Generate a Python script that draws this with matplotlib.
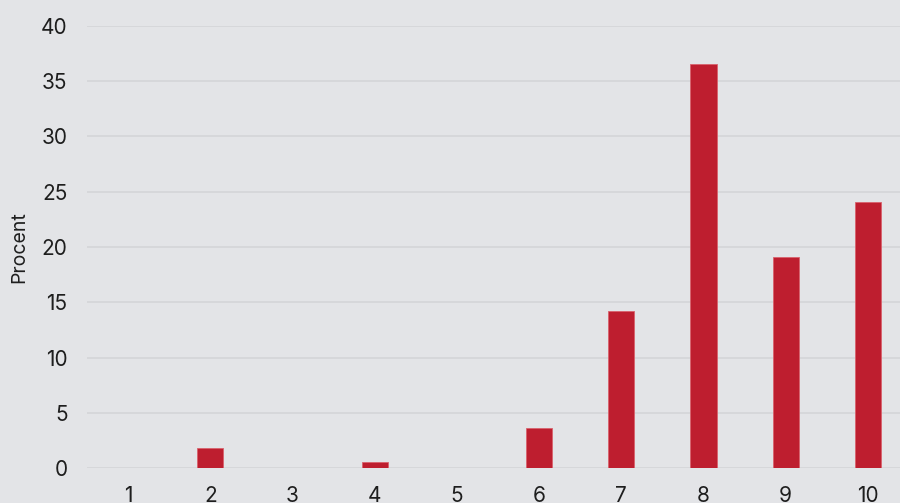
import matplotlib
matplotlib.use("Agg")
import matplotlib.pyplot as plt

categories = ["1", "2", "3", "4", "5", "6", "7", "8", "9", "10"]
values = [0, 1.83, 0, 0.6, 0, 3.64, 14.19, 36.5, 19.1, 24.07]
yticks = [0, 5, 10, 15, 20, 25, 30, 35, 40]

bg = "#e3e4e7"
grid_c = "#d4d5d8"
bar_c = "#be1e2f"
text_c = "#1e1e1e"

plt.rcParams['font.family'] = ['Inter', 'DejaVu Sans']

fig = plt.figure(figsize=(9, 5.03), dpi=100, facecolor=bg)
ax = fig.add_axes([87/900, (503-468.3)/503, 822/900, (468.3-25.7)/503])
ax.set_facecolor(bg)

x = list(range(1, len(categories) + 1))
ax.bar(x, values, width=0.32, color=bar_c, edgecolor="#d9626d", linewidth=0.6, zorder=3)

ax.set_xlim(0.5, len(categories) + 0.5)
ax.set_ylim(0, 40)
ax.set_yticks(yticks)
ax.set_yticklabels([str(t) for t in yticks])
ax.set_xticks(x)
ax.set_xticklabels(categories)

ax.grid(axis="y", color=grid_c, linewidth=1.2, zorder=0)
ax.grid(axis="x", visible=False)
for s in ax.spines.values():
    s.set_visible(False)
ax.tick_params(axis="both", length=0, labelsize=15, colors=text_c)
ax.tick_params(axis="y", pad=14)
ax.tick_params(axis="x", pad=13)
ax.set_ylabel("Procent", fontsize=14, color=text_c, labelpad=9)

fig.savefig("out.png", dpi=100, facecolor=bg)
